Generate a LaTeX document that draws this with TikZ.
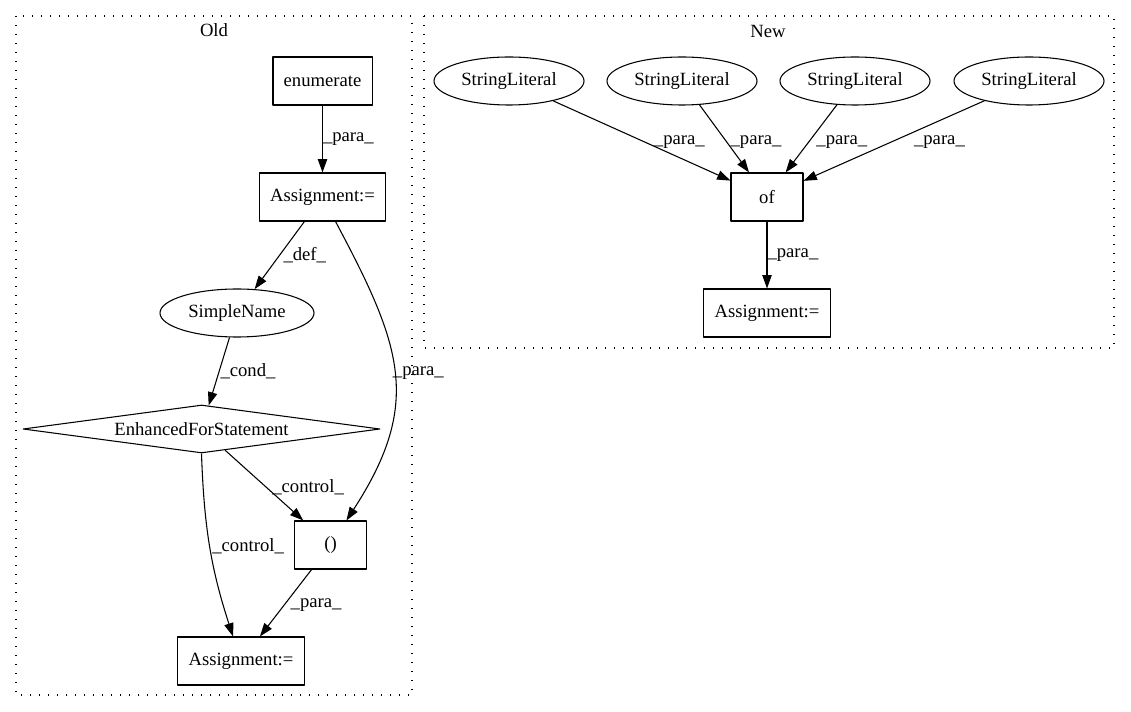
\documentclass[tikz,border=0pt]{standalone}
\usepackage{fontspec}
\setmainfont{Liberation Serif}
\usetikzlibrary{arrows.meta,shapes.geometric}
\tikzset{
	box/.style={draw, rectangle, minimum width=54pt, minimum height=36pt, inner xsep=8pt},
	oval/.style={draw, ellipse, inner sep=0pt, minimum height=36pt},
	loopnode/.style={draw, diamond, aspect=7.4, inner sep=0pt, minimum width=267.75pt, minimum height=36pt},
	lbl/.style={anchor=west, inner sep=0pt},
	cluster/.style={dash pattern=on 0.9pt off 5.85pt},
	flow/.style={-{Triangle[length=10pt,width=7pt]}}
}
\begin{document}
\begin{tikzpicture}[x=0.75pt, y=-0.75pt, line width=0.8pt, line join=round, font=\fontsize{14pt}{16pt}\selectfont]
	\useasboundingbox (0,0) rectangle (1131,712);
	% clusters
	\draw[cluster] (16,16) rectangle (412,695);
	\draw[cluster] (424,16) rectangle (1114,348);
	\node (old) at (214,30) {Old};
	\node (new) at (768,31) {New};
	% Old
	\node[box] (enum) at (322.5,81) {enumerate};
	\node[box] (asgA) at (322.5,197) {Assignment:=};
	\node[oval, minimum width=115.5pt] (sname) at (237,313) {SimpleName};
	\node[loopnode] (efs) at (201.5,429) {EnhancedForStatement};
	\node[box] (paren) at (330.5,545) {()};
	\node[box] (asgB) at (241,661) {Assignment:=};
	\draw[flow] (enum) -- node[lbl, pos=.5] {\_para\_} (asgA);
	\draw[flow] (asgA) -- node[lbl, pos=.5, xshift=2.6pt] {\_def\_} (sname);
	\draw[flow] (asgA) to[out=-62, in=57, looseness=1.2] node[lbl, pos=.5, xshift=-1.5pt] {\_para\_} (paren);
	\draw[flow] (sname) -- node[lbl, pos=.49, xshift=.5pt] {\_cond\_} (efs);
	\draw[flow] (efs) -- node[lbl, pos=.52, xshift=4.5pt] {\_control\_} (paren);
	\draw[flow] (efs.south) to[out=-88, in=108] node[lbl, pos=.5, xshift=1.5pt] {\_control\_} (asgB);
	\draw[flow] (paren) -- node[lbl, pos=.53, xshift=4.5pt] {\_para\_} (asgB);
	% New
	\node[box] (of) at (767,197) {of};
	\node[box] (asgC) at (767,313) {Assignment:=};
	\foreach \i/\x/\p/\s in {1/509/.52/6pt, 2/682/.55/2.5pt, 3/855/.55/5.4pt, 4/1029/.517/17pt}{
		\node[oval, minimum width=112.5pt] (str\i) at (\x,81) {StringLiteral};
		\draw[flow] (str\i) -- node[lbl, pos=\p, xshift=\s] {\_para\_} (of);
	}
	\draw[flow] (of) -- node[lbl, pos=.5] {\_para\_} (asgC);
\end{tikzpicture}
\end{document}
